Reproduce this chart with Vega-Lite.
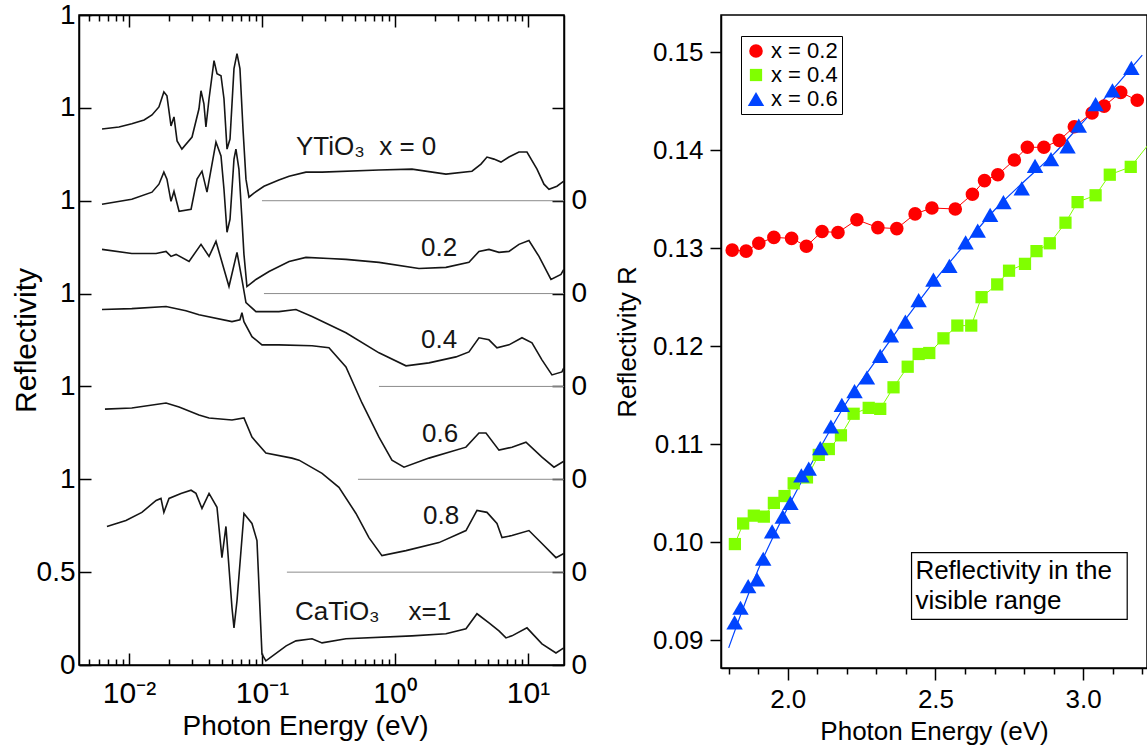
{
"$schema": "https://vega.github.io/schema/vega-lite/v6.json",
"padding": {"left": 10, "top": 0, "right": 0, "bottom": 0},
"bounds": "flush",
"spacing": 157,
"datasets": {
"baselines": [
{"e1":0.1,"e2":18.66,"y":2.5},{"e1":0.1035,"e2":18.66,"y":2.0},{"e1":0.758,"e2":18.66,"y":1.5},{"e1":0.527,"e2":18.66,"y":1.0},{"e1":0.154,"e2":18.66,"y":0.5}
],
"labels": [
{"t":"YTiO₃\u00a0\u00a0x = 0","e":0.180,"y":2.789},{"t":"0.2","e":1.569,"y":2.246},{"t":"0.4","e":1.569,"y":1.749},{"t":"0.6","e":1.596,"y":1.243},{"t":"0.8","e":1.624,"y":0.803},{"t":"CaTiO₃\u00a0\u00a0\u00a0\u00a0x=1","e":0.177,"y":0.286}
],
"curves": [
{"s":"0","e":0.00627,"y":2.886},{"s":"0","e":0.00841,"y":2.897},{"s":"0","e":0.0105,"y":2.914},{"s":"0","e":0.0130,"y":2.935},{"s":"0","e":0.0149,"y":2.962},{"s":"0","e":0.0168,"y":3.005},{"s":"0","e":0.0183,"y":3.086},{"s":"0","e":0.0193,"y":3.065},{"s":"0","e":0.0207,"y":2.903},{"s":"0","e":0.0218,"y":2.951},{"s":"0","e":0.0230,"y":2.822},{"s":"0","e":0.0250,"y":2.778},{"s":"0","e":0.0298,"y":2.843},{"s":"0","e":0.0336,"y":2.995},{"s":"0","e":0.0348,"y":3.092},{"s":"0","e":0.0366,"y":3.022},{"s":"0","e":0.0379,"y":2.897},{"s":"0","e":0.0400,"y":3.049},{"s":"0","e":0.0436,"y":3.254},{"s":"0","e":0.0459,"y":3.184},{"s":"0","e":0.0492,"y":3.173},{"s":"0","e":0.0518,"y":3.049},{"s":"0","e":0.0546,"y":2.778},{"s":"0","e":0.0575,"y":2.832},{"s":"0","e":0.0616,"y":3.211},{"s":"0","e":0.0649,"y":3.292},{"s":"0","e":0.0683,"y":3.211},{"s":"0","e":0.0720,"y":2.886},{"s":"0","e":0.0758,"y":2.616},{"s":"0","e":0.0798,"y":2.519},{"s":"0","e":0.0870,"y":2.541},{"s":"0","e":0.1035,"y":2.578},{"s":"0","e":0.134,"y":2.611},{"s":"0","e":0.160,"y":2.632},{"s":"0","e":0.214,"y":2.654},{"s":"0","e":0.283,"y":2.654},{"s":"0","e":0.758,"y":2.665},{"s":"0","e":1.342,"y":2.670},{"s":"0","e":2.417,"y":2.643},{"s":"0","e":3.793,"y":2.659},{"s":"0","e":4.432,"y":2.697},{"s":"0","e":4.918,"y":2.735},{"s":"0","e":5.551,"y":2.724},{"s":"0","e":6.266,"y":2.708},{"s":"0","e":7.197,"y":2.735},{"s":"0","e":8.554,"y":2.762},{"s":"0","e":9.829,"y":2.762},{"s":"0","e":11.69,"y":2.670},{"s":"0","e":13.19,"y":2.589},{"s":"0","e":14.39,"y":2.562},{"s":"0","e":16.52,"y":2.578},{"s":"0","e":18.6,"y":2.605},
{"s":"0.2","e":0.00627,"y":2.481},{"s":"0.2","e":0.0105,"y":2.508},{"s":"0.2","e":0.0149,"y":2.546},{"s":"0.2","e":0.0168,"y":2.589},{"s":"0.2","e":0.0183,"y":2.654},{"s":"0.2","e":0.0193,"y":2.616},{"s":"0.2","e":0.0207,"y":2.497},{"s":"0.2","e":0.0218,"y":2.551},{"s":"0.2","e":0.0238,"y":2.443},{"s":"0.2","e":0.0293,"y":2.454},{"s":"0.2","e":0.0325,"y":2.616},{"s":"0.2","e":0.0354,"y":2.659},{"s":"0.2","e":0.0386,"y":2.546},{"s":"0.2","e":0.0451,"y":2.816},{"s":"0.2","e":0.0492,"y":2.741},{"s":"0.2","e":0.0518,"y":2.562},{"s":"0.2","e":0.0546,"y":2.330},{"s":"0.2","e":0.0575,"y":2.400},{"s":"0.2","e":0.0616,"y":2.724},{"s":"0.2","e":0.0637,"y":2.778},{"s":"0.2","e":0.0671,"y":2.670},{"s":"0.2","e":0.0707,"y":2.400},{"s":"0.2","e":0.0732,"y":2.211},{"s":"0.2","e":0.0771,"y":2.038},{"s":"0.2","e":0.0901,"y":2.076},{"s":"0.2","e":0.113,"y":2.119},{"s":"0.2","e":0.160,"y":2.173},{"s":"0.2","e":0.214,"y":2.195},{"s":"0.2","e":0.319,"y":2.189},{"s":"0.2","e":0.428,"y":2.184},{"s":"0.2","e":0.758,"y":2.168},{"s":"0.2","e":1.515,"y":2.135},{"s":"0.2","e":2.417,"y":2.141},{"s":"0.2","e":3.60,"y":2.168},{"s":"0.2","e":4.281,"y":2.227},{"s":"0.2","e":5.091,"y":2.238},{"s":"0.2","e":6.053,"y":2.222},{"s":"0.2","e":7.197,"y":2.227},{"s":"0.2","e":8.554,"y":2.265},{"s":"0.2","e":10.17,"y":2.286},{"s":"0.2","e":12.10,"y":2.200},{"s":"0.2","e":14.89,"y":2.076},{"s":"0.2","e":17.70,"y":2.103},{"s":"0.2","e":18.6,"y":2.130},
{"s":"0.4","e":0.00627,"y":2.238},{"s":"0.4","e":0.0105,"y":2.216},{"s":"0.4","e":0.0160,"y":2.216},{"s":"0.4","e":0.0190,"y":2.227},{"s":"0.4","e":0.0207,"y":2.200},{"s":"0.4","e":0.0226,"y":2.211},{"s":"0.4","e":0.0283,"y":2.173},{"s":"0.4","e":0.0348,"y":2.265},{"s":"0.4","e":0.0400,"y":2.200},{"s":"0.4","e":0.0451,"y":2.281},{"s":"0.4","e":0.0565,"y":2.038},{"s":"0.4","e":0.0649,"y":2.222},{"s":"0.4","e":0.0707,"y":2.076},{"s":"0.4","e":0.0758,"y":1.951},{"s":"0.4","e":0.0901,"y":1.903},{"s":"0.4","e":0.134,"y":1.903},{"s":"0.4","e":0.180,"y":1.914},{"s":"0.4","e":0.238,"y":1.876},{"s":"0.4","e":0.428,"y":1.789},{"s":"0.4","e":0.758,"y":1.681},{"s":"0.4","e":1.210,"y":1.611},{"s":"0.4","e":1.801,"y":1.627},{"s":"0.4","e":2.875,"y":1.659},{"s":"0.4","e":3.60,"y":1.686},{"s":"0.4","e":4.281,"y":1.762},{"s":"0.4","e":5.091,"y":1.751},{"s":"0.4","e":5.847,"y":1.708},{"s":"0.4","e":7.197,"y":1.724},{"s":"0.4","e":9.014,"y":1.762},{"s":"0.4","e":10.72,"y":1.735},{"s":"0.4","e":12.74,"y":1.643},{"s":"0.4","e":15.15,"y":1.562},{"s":"0.4","e":18.01,"y":1.578},{"s":"0.4","e":18.6,"y":1.600},
{"s":"0.6","e":0.00627,"y":1.914},{"s":"0.6","e":0.0105,"y":1.919},{"s":"0.6","e":0.0190,"y":1.930},{"s":"0.6","e":0.0268,"y":1.908},{"s":"0.6","e":0.0336,"y":1.886},{"s":"0.6","e":0.0595,"y":1.849},{"s":"0.6","e":0.0683,"y":1.859},{"s":"0.6","e":0.0707,"y":1.897},{"s":"0.6","e":0.0732,"y":1.849},{"s":"0.6","e":0.0841,"y":1.768},{"s":"0.6","e":0.100,"y":1.724},{"s":"0.6","e":0.134,"y":1.724},{"s":"0.6","e":0.238,"y":1.719},{"s":"0.6","e":0.319,"y":1.708},{"s":"0.6","e":0.428,"y":1.605},{"s":"0.6","e":0.565,"y":1.411},{"s":"0.6","e":0.758,"y":1.227},{"s":"0.6","e":0.949,"y":1.103},{"s":"0.6","e":1.169,"y":1.065},{"s":"0.6","e":1.801,"y":1.114},{"s":"0.6","e":3.419,"y":1.173},{"s":"0.6","e":4.281,"y":1.249},{"s":"0.6","e":4.833,"y":1.249},{"s":"0.6","e":6.053,"y":1.157},{"s":"0.6","e":7.580,"y":1.173},{"s":"0.6","e":9.660,"y":1.200},{"s":"0.6","e":12.74,"y":1.119},{"s":"0.6","e":15.69,"y":1.065},{"s":"0.6","e":18.6,"y":1.097},
{"s":"0.8","e":0.0066,"y":1.378},{"s":"0.8","e":0.0105,"y":1.384},{"s":"0.8","e":0.0190,"y":1.411},{"s":"0.8","e":0.0238,"y":1.389},{"s":"0.8","e":0.0336,"y":1.346},{"s":"0.8","e":0.0400,"y":1.330},{"s":"0.8","e":0.0595,"y":1.319},{"s":"0.8","e":0.0732,"y":1.330},{"s":"0.8","e":0.0841,"y":1.227},{"s":"0.8","e":0.107,"y":1.141},{"s":"0.8","e":0.168,"y":1.114},{"s":"0.8","e":0.190,"y":1.103},{"s":"0.8","e":0.283,"y":1.032},{"s":"0.8","e":0.379,"y":0.957},{"s":"0.8","e":0.509,"y":0.816},{"s":"0.8","e":0.637,"y":0.686},{"s":"0.8","e":0.798,"y":0.589},{"s":"0.8","e":1.210,"y":0.616},{"s":"0.8","e":2.142,"y":0.659},{"s":"0.8","e":3.419,"y":0.724},{"s":"0.8","e":4.136,"y":0.832},{"s":"0.8","e":4.918,"y":0.822},{"s":"0.8","e":5.847,"y":0.762},{"s":"0.8","e":6.376,"y":0.686},{"s":"0.8","e":7.580,"y":0.697},{"s":"0.8","e":10.17,"y":0.724},{"s":"0.8","e":12.74,"y":0.654},{"s":"0.8","e":16.24,"y":0.578},{"s":"0.8","e":18.6,"y":0.600},
{"s":"1","e":0.00683,"y":0.746},{"s":"1","e":0.00949,"y":0.778},{"s":"1","e":0.0125,"y":0.822},{"s":"1","e":0.0160,"y":0.886},{"s":"1","e":0.0174,"y":0.897},{"s":"1","e":0.0183,"y":0.822},{"s":"1","e":0.0200,"y":0.897},{"s":"1","e":0.0246,"y":0.924},{"s":"1","e":0.0293,"y":0.941},{"s":"1","e":0.0319,"y":0.924},{"s":"1","e":0.0354,"y":0.843},{"s":"1","e":0.0400,"y":0.924},{"s":"1","e":0.0459,"y":0.849},{"s":"1","e":0.0500,"y":0.578},{"s":"1","e":0.0536,"y":0.746},{"s":"1","e":0.0595,"y":0.308},{"s":"1","e":0.0616,"y":0.200},{"s":"1","e":0.0649,"y":0.346},{"s":"1","e":0.0732,"y":0.816},{"s":"1","e":0.0841,"y":0.762},{"s":"1","e":0.0917,"y":0.670},{"s":"1","e":0.100,"y":0.059},{"s":"1","e":0.107,"y":0.022},{"s":"1","e":0.152,"y":0.103},{"s":"1","e":0.180,"y":0.130},{"s":"1","e":0.238,"y":0.141},{"s":"1","e":0.283,"y":0.119},{"s":"1","e":0.428,"y":0.141},{"s":"1","e":1.342,"y":0.157},{"s":"1","e":2.417,"y":0.168},{"s":"1","e":3.419,"y":0.195},{"s":"1","e":4.136,"y":0.276},{"s":"1","e":5.091,"y":0.227},{"s":"1","e":6.053,"y":0.184},{"s":"1","e":6.832,"y":0.146},{"s":"1","e":7.580,"y":0.157},{"s":"1","e":9.829,"y":0.200},{"s":"1","e":12.74,"y":0.114},{"s":"1","e":16.24,"y":0.065},{"s":"1","e":18.6,"y":0.092}
],
"pts": [
{"s":"x = 0.2","e":1.812,"r":0.1298},{"s":"x = 0.2","e":1.859,"r":0.1297},{"s":"x = 0.2","e":1.902,"r":0.1305},{"s":"x = 0.2","e":1.953,"r":0.1311},{"s":"x = 0.2","e":2.013,"r":0.1310},{"s":"x = 0.2","e":2.063,"r":0.1302},{"s":"x = 0.2","e":2.116,"r":0.1317},{"s":"x = 0.2","e":2.170,"r":0.1316},{"s":"x = 0.2","e":2.234,"r":0.1329},{"s":"x = 0.2","e":2.305,"r":0.1321},{"s":"x = 0.2","e":2.369,"r":0.1320},{"s":"x = 0.2","e":2.431,"r":0.1335},{"s":"x = 0.2","e":2.488,"r":0.1341},{"s":"x = 0.2","e":2.567,"r":0.1340},{"s":"x = 0.2","e":2.625,"r":0.1355},{"s":"x = 0.2","e":2.666,"r":0.1369},{"s":"x = 0.2","e":2.711,"r":0.1375},{"s":"x = 0.2","e":2.767,"r":0.1390},{"s":"x = 0.2","e":2.811,"r":0.1403},{"s":"x = 0.2","e":2.867,"r":0.1403},{"s":"x = 0.2","e":2.919,"r":0.1410},{"s":"x = 0.2","e":2.970,"r":0.1424},{"s":"x = 0.2","e":3.030,"r":0.1438},{"s":"x = 0.2","e":3.071,"r":0.1445},{"s":"x = 0.2","e":3.127,"r":0.1459},{"s":"x = 0.2","e":3.183,"r":0.1451},
{"s":"x = 0.4","e":1.821,"r":0.0998},{"s":"x = 0.4","e":1.849,"r":0.1019},{"s":"x = 0.4","e":1.885,"r":0.1027},{"s":"x = 0.4","e":1.919,"r":0.1026},{"s":"x = 0.4","e":1.953,"r":0.1040},{"s":"x = 0.4","e":1.989,"r":0.1047},{"s":"x = 0.4","e":2.020,"r":0.1060},{"s":"x = 0.4","e":2.065,"r":0.1066},{"s":"x = 0.4","e":2.105,"r":0.1089},{"s":"x = 0.4","e":2.139,"r":0.1095},{"s":"x = 0.4","e":2.180,"r":0.1109},{"s":"x = 0.4","e":2.223,"r":0.1131},{"s":"x = 0.4","e":2.274,"r":0.1137},{"s":"x = 0.4","e":2.313,"r":0.1136},{"s":"x = 0.4","e":2.358,"r":0.1158},{"s":"x = 0.4","e":2.406,"r":0.1179},{"s":"x = 0.4","e":2.443,"r":0.1192},{"s":"x = 0.4","e":2.479,"r":0.1193},{"s":"x = 0.4","e":2.527,"r":0.1208},{"s":"x = 0.4","e":2.574,"r":0.1221},{"s":"x = 0.4","e":2.621,"r":0.1221},{"s":"x = 0.4","e":2.656,"r":0.1250},{"s":"x = 0.4","e":2.709,"r":0.1263},{"s":"x = 0.4","e":2.749,"r":0.1277},{"s":"x = 0.4","e":2.803,"r":0.1284},{"s":"x = 0.4","e":2.842,"r":0.1297},{"s":"x = 0.4","e":2.887,"r":0.1305},{"s":"x = 0.4","e":2.940,"r":0.1326},{"s":"x = 0.4","e":2.981,"r":0.1347},{"s":"x = 0.4","e":3.042,"r":0.1354},{"s":"x = 0.4","e":3.090,"r":0.1375},{"s":"x = 0.4","e":3.161,"r":0.1383},{"s":"x = 0.4","e":3.245,"r":0.1415},
{"s":"x = 0.6","e":1.820,"r":0.0918},{"s":"x = 0.6","e":1.840,"r":0.0933},{"s":"x = 0.6","e":1.866,"r":0.0955},{"s":"x = 0.6","e":1.896,"r":0.0962},{"s":"x = 0.6","e":1.917,"r":0.0983},{"s":"x = 0.6","e":1.947,"r":0.1011},{"s":"x = 0.6","e":1.983,"r":0.1026},{"s":"x = 0.6","e":2.009,"r":0.1040},{"s":"x = 0.6","e":2.046,"r":0.1068},{"s":"x = 0.6","e":2.071,"r":0.1075},{"s":"x = 0.6","e":2.110,"r":0.1096},{"s":"x = 0.6","e":2.146,"r":0.1118},{"s":"x = 0.6","e":2.183,"r":0.1140},{"s":"x = 0.6","e":2.226,"r":0.1154},{"s":"x = 0.6","e":2.268,"r":0.1168},{"s":"x = 0.6","e":2.313,"r":0.1190},{"s":"x = 0.6","e":2.349,"r":0.1211},{"s":"x = 0.6","e":2.398,"r":0.1225},{"s":"x = 0.6","e":2.443,"r":0.1247},{"s":"x = 0.6","e":2.493,"r":0.1268},{"s":"x = 0.6","e":2.547,"r":0.1282},{"s":"x = 0.6","e":2.602,"r":0.1306},{"s":"x = 0.6","e":2.643,"r":0.1318},{"s":"x = 0.6","e":2.685,"r":0.1334},{"s":"x = 0.6","e":2.730,"r":0.1347},{"s":"x = 0.6","e":2.792,"r":0.1361},{"s":"x = 0.6","e":2.837,"r":0.1384},{"s":"x = 0.6","e":2.891,"r":0.1391},{"s":"x = 0.6","e":2.947,"r":0.1404},{"s":"x = 0.6","e":2.985,"r":0.1425},{"s":"x = 0.6","e":3.042,"r":0.1447},{"s":"x = 0.6","e":3.099,"r":0.1461},{"s":"x = 0.6","e":3.163,"r":0.1484}
],
"fit": [
{"e":1.80,"r":0.0892},{"e":1.9,"r":0.0972},{"e":2.0,"r":0.1035},{"e":2.1,"r":0.1091},{"e":2.2,"r":0.1143},{"e":2.3,"r":0.1186},{"e":2.4,"r":0.1228},{"e":2.5,"r":0.1268},{"e":2.6,"r":0.1304},{"e":2.7,"r":0.1339},{"e":2.8,"r":0.1368},{"e":2.9,"r":0.1396},{"e":3.0,"r":0.1429},{"e":3.1,"r":0.1462},{"e":3.2,"r":0.1497}
]
},
"hconcat": [
{
"width": 485, "height": 650,
"layer": [
{
"data": {"name": "baselines"},
"mark": {"type": "rule", "color": "#8c8c8c", "strokeWidth": 1},
"encoding": {
"x": {"field": "e1", "type": "quantitative",
"scale": {"type": "log", "domain": [0.00421, 18.66], "nice": false},
"axis": {"orient": "bottom", "values": [0.005,0.006,0.007,0.008,0.009,0.01,0.02,0.03,0.04,0.05,0.06,0.07,0.08,0.09,0.1,0.2,0.3,0.4,0.5,0.6,0.7,0.8,0.9,1,2,3,4,5,6,7,8,9,10],
"tickSize": {"condition": {"test": "abs(log(datum.value)/LN10 - round(log(datum.value)/LN10)) < 0.01", "value": -12}, "value": -6},
"labelExpr": "abs(datum.value-0.01)<0.0001 ? '10⁻²' : abs(datum.value-0.1)<0.001 ? '10⁻¹' : abs(datum.value-1)<0.01 ? '10⁰' : abs(datum.value-10)<0.1 ? '10¹' : ''",
"labelFontSize": 30, "labelPadding": 25, "labelOverlap": false,
"title": "Photon Energy (eV)", "titleFontSize": 28, "titlePadding": -2, "titleX": 226}},
"x2": {"field": "e2"},
"y": {"field": "y", "type": "quantitative",
"scale": {"domain": [0, 3.5], "nice": false, "zero": false},
"axis": {"orient": "left", "values": [0,0.5,1,1.5,2,2.5,3,3.5], "tickSize": -12,
"labelExpr": "datum.value==0 ? '0' : datum.value==0.5 ? '0.5' : '1'",
"labelFontSize": 28, "labelPadding": 16, "labelOverlap": false,
"title": "Reflectivity", "titleFontSize": 30, "titlePadding": -5}}
}
},
{
"data": {"name": "curves"},
"mark": {"type": "line", "color": "#151515", "strokeWidth": 1.6},
"encoding": {
"x": {"field": "e", "type": "quantitative",
"scale": {"type": "log", "domain": [0.00421, 18.66], "nice": false},
"axis": {"orient": "top", "values": [0.005,0.006,0.007,0.008,0.009,0.01,0.02,0.03,0.04,0.05,0.06,0.07,0.08,0.09,0.1,0.2,0.3,0.4,0.5,0.6,0.7,0.8,0.9,1,2,3,4,5,6,7,8,9,10],
"tickSize": {"condition": {"test": "abs(log(datum.value)/LN10 - round(log(datum.value)/LN10)) < 0.01", "value": -12}, "value": -6},
"labels": false, "title": null}},
"y": {"field": "y", "type": "quantitative",
"scale": {"domain": [0, 3.5], "nice": false, "zero": false},
"axis": {"orient": "right", "values": [0,0.5,1,1.5,2,2.5,3], "tickSize": -12,
"labelExpr": "datum.value < 2.75 ? '0' : ''",
"labelFontSize": 28, "labelPadding": 19, "labelOverlap": false, "title": null}},
"detail": {"field": "s"}
}
},
{
"data": {"name": "labels"},
"mark": {"type": "text", "align": "left", "baseline": "middle", "fontSize": 26, "color": "#151515"},
"encoding": {
"x": {"field": "e", "type": "quantitative", "axis": null},
"y": {"field": "y", "type": "quantitative", "axis": null},
"text": {"field": "t"}
}
}
],
"resolve": {"axis": {"x": "independent", "y": "independent"}}
},
{
"width": 426, "height": 653,
"layer": [
{
"data": {"name": "fit"},
"mark": {"type": "line", "color": "#0044ff", "strokeWidth": 1.2, "interpolate": "monotone", "clip": true},
"encoding": {
"x": {"field": "e", "type": "quantitative",
"scale": {"domain": [1.774, 3.216], "nice": false, "zero": false},
"axis": {"orient": "bottom", "values": [2.0, 2.5, 3.0], "format": ".1f", "tickSize": 12,
"labelFontSize": 26, "labelPadding": 6, "labelOverlap": false,
"title": "Photon Energy (eV)", "titleFontSize": 26, "titlePadding": 6}},
"y": {"field": "r", "type": "quantitative",
"scale": {"domain": [0.08715, 0.1538], "nice": false, "zero": false},
"axis": {"values": [0.09,0.10,0.11,0.12,0.13,0.14,0.15], "format": ".2f", "tickSize": 11,
"labelFontSize": 26, "labelPadding": 7, "labelOverlap": false,
"title": "Reflectivity R", "titleFontSize": 26, "titlePadding": 12}}
}
},
{
"data": {"name": "pts"},
"transform": [{"filter": "datum.s == 'x = 0.2'"}],
"mark": {"type": "line", "color": "#ff0000", "strokeWidth": 1, "clip": true},
"encoding": {
"x": {"field": "e", "type": "quantitative",
"axis": {"orient": "bottom", "values": [1.8,1.9,2.1,2.2,2.3,2.4,2.6,2.7,2.8,2.9,3.1,3.2], "tickSize": 6, "labels": false, "domain": false, "title": null}},
"y": {"field": "r", "type": "quantitative"}
}
},
{
"data": {"name": "pts"},
"transform": [{"filter": "datum.s == 'x = 0.4'"}],
"mark": {"type": "line", "color": "#80ff00", "strokeWidth": 1, "clip": true},
"encoding": {
"x": {"field": "e", "type": "quantitative", "axis": null},
"y": {"field": "r", "type": "quantitative"}
}
},
{
"data": {"name": "pts"},
"mark": {"type": "point", "filled": true, "opacity": 1, "clip": true},
"encoding": {
"x": {"field": "e", "type": "quantitative", "axis": null},
"y": {"field": "r", "type": "quantitative"},
"color": {"field": "s", "type": "nominal",
"scale": {"domain": ["x = 0.2", "x = 0.4", "x = 0.6"], "range": ["#ff0000", "#80ff00", "#0044ff"]},
"legend": {"title": null, "orient": "none", "legendX": 662, "legendY": 21, "strokeColor": "black", "fillColor": "white", "padding": 4, "labelFontSize": 22, "symbolSize": 240, "rowPadding": 2, "labelColor": "black", "labelFont": "Liberation Sans"}},
"shape": {"field": "s", "type": "nominal",
"scale": {"domain": ["x = 0.2", "x = 0.4", "x = 0.6"], "range": ["circle", "square", "triangle-up"]},
"legend": {"title": null, "orient": "none", "legendX": 662, "legendY": 21, "strokeColor": "black", "fillColor": "white", "padding": 4, "labelFontSize": 22, "symbolSize": 240, "rowPadding": 2, "labelColor": "black", "labelFont": "Liberation Sans"}},
"size": {"field": "s", "type": "nominal",
"scale": {"type": "ordinal", "domain": ["x = 0.2", "x = 0.4", "x = 0.6"], "range": [185, 150, 270]},
"legend": null}
}
},
{
"data": {"values": [{}]},
"mark": {"type": "rect", "fill": "white", "stroke": "black", "strokeWidth": 1.2},
"encoding": {
"x": {"datum": 2.419, "type": "quantitative", "axis": null},
"x2": {"datum": 3.149},
"y": {"datum": 0.09893, "type": "quantitative"},
"y2": {"datum": 0.09212}
}
},
{
"data": {"values": [{}]},
"mark": {"type": "text", "align": "left", "baseline": "alphabetic", "fontSize": 26, "lineHeight": 30, "color": "black", "text": ["Reflectivity in the", "visible range"]},
"encoding": {
"x": {"datum": 2.432, "type": "quantitative", "axis": null},
"y": {"datum": 0.09619, "type": "quantitative"}
}
}
],
"resolve": {"axis": {"x": "independent"}}
}
],
"config": {
"font": "Liberation Sans",
"view": {"stroke": "black", "strokeWidth": 1.5},
"axis": {"labelFont": "Liberation Sans", "titleFont": "Liberation Sans", "labelColor": "black", "titleColor": "black", "domainColor": "black", "tickColor": "black", "titleFontWeight": "normal", "grid": false, "labelFlush": false, "labelOverlap": false, "labelBound": false, "domainWidth": 1.5, "tickWidth": 1.5},
"text": {"font": "Liberation Sans"}
}
}
